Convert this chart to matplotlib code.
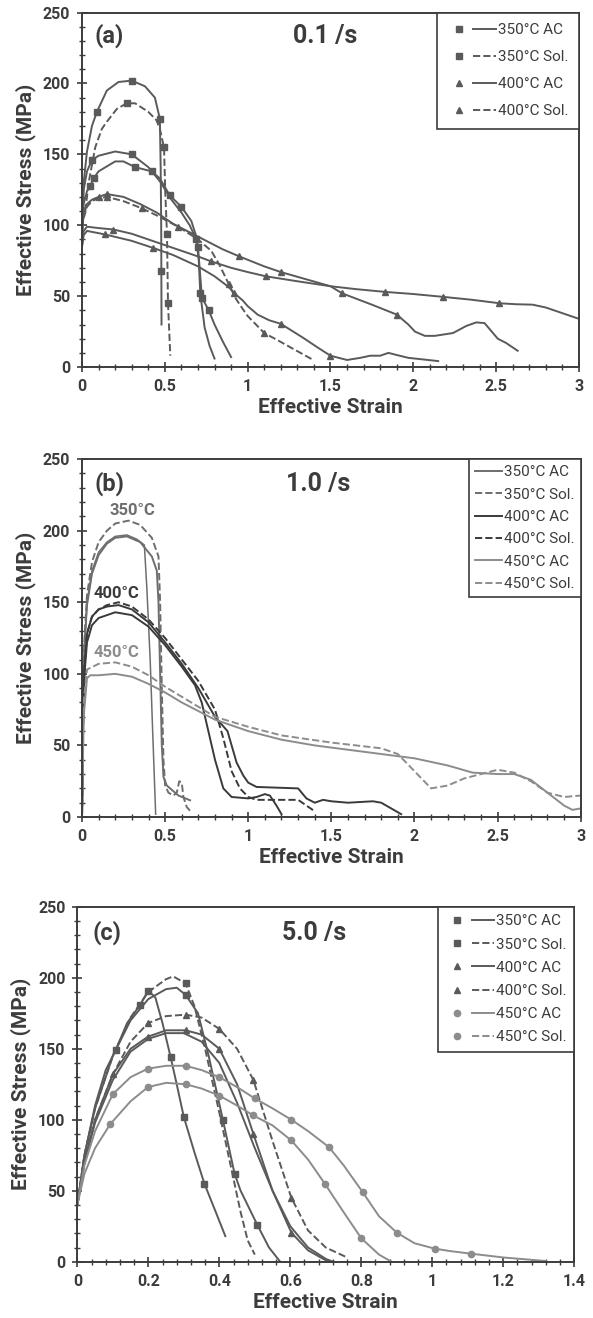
import matplotlib.pyplot as plt
from matplotlib.legend_handler import HandlerTuple
from matplotlib.lines import Line2D
from matplotlib.ticker import MultipleLocator

plt.rcParams['font.family'] = ['Roboto', 'DejaVu Sans']
plt.rcParams['font.weight'] = 'bold'

# ---------------- panel (a) 0.1 /s ----------------
a1_x = [0, 0.01, 0.03, 0.06, 0.09, 0.15, 0.22, 0.30, 0.38, 0.44, 0.47, 0.475, 0.478, 0.479, 0.48]
a1_y = [100, 130, 152, 170, 180, 195, 201, 202, 198, 190, 175, 140, 100, 68, 30]
a1_m = [4, 7, 10, 13]

a2_x = [0.02, 0.04, 0.08, 0.12, 0.15, 0.21, 0.27, 0.32, 0.40, 0.45, 0.47, 0.485, 0.495, 0.503, 0.513, 0.519, 0.533]
a2_y = [110, 130, 155, 168, 173, 182, 186, 186, 180, 174, 168, 160, 155, 122, 94, 45, 8]
a2_m = [6, 12, 14, 15]

a3_x = [0, 0.01, 0.03, 0.06, 0.1, 0.2, 0.3, 0.4, 0.47, 0.54, 0.6, 0.65, 0.69, 0.705, 0.714, 0.74, 0.77, 0.8]
a3_y = [95, 125, 138, 146, 149, 152, 150, 141, 131, 118, 109, 100, 90, 75, 52, 28, 15, 6]
a3_m = [3, 6, 12, 14]

a4_x = [0, 0.01, 0.03, 0.05, 0.07, 0.1, 0.2, 0.25, 0.32, 0.42, 0.47, 0.53, 0.6, 0.66, 0.69, 0.70,
        0.714, 0.724, 0.765, 0.8, 0.85, 0.9]
a4_y = [95, 115, 124, 128, 133, 138, 145, 145, 141, 138, 133, 121, 113, 103, 92, 85, 64, 49, 40, 30, 18, 7]
a4_m = [3, 4, 8, 9, 11, 12, 15, 17, 18]

a5_x = [0, 0.01, 0.03, 0.06, 0.1, 0.15, 0.25, 0.35, 0.45, 0.55, 0.65, 0.75, 0.85, 0.95, 1.1, 1.2, 1.35,
        1.5, 1.57, 1.75, 1.9, 1.97, 2.01, 2.07, 2.13, 2.24, 2.32, 2.38, 2.43, 2.47, 2.51, 2.56, 2.63]
a5_y = [90, 110, 115, 118, 120, 122, 120, 115, 109, 101, 95, 89, 83, 78, 71, 67, 62, 57, 52, 44, 37, 30,
        25, 22, 22, 24, 29, 31.5, 31, 25.5, 20, 17, 11.5]
a5_m = [4, 5, 13, 15, 18, 20]

a6_x = [0.01, 0.03, 0.06, 0.1, 0.15, 0.25, 0.36, 0.45, 0.58, 0.7, 0.78, 0.83, 0.886, 0.93, 0.97, 1.0,
        1.05, 1.1, 1.18, 1.28, 1.39]
a6_y = [105, 113, 117, 119, 120, 117, 112, 107, 99, 90, 82, 72, 58.5, 48, 41, 36, 30, 24, 19, 12.5, 5.4]
a6_m = [4, 6, 8, 12, 17]

a7_x = [0, 0.01, 0.03, 0.1, 0.19, 0.3, 0.4, 0.5, 0.6, 0.7, 0.78, 0.9, 1.0, 1.11, 1.3, 1.5, 1.65, 1.83,
        2.0, 2.18, 2.35, 2.52, 2.62, 2.72, 2.8, 2.9, 3.0]
a7_y = [85, 96, 99, 98, 97, 94, 90, 86, 82, 78, 74.5, 70, 67, 64, 60.5, 57, 55, 53, 51.5, 49.5, 47.5,
        45, 44.3, 44, 42, 38, 34]
a7_m = [4, 10, 13, 17, 19, 21]

a8_x = [0, 0.01, 0.03, 0.14, 0.3, 0.43, 0.55, 0.7, 0.8, 0.885, 0.92, 0.97, 1.0, 1.06, 1.13, 1.2, 1.33,
        1.42, 1.5, 1.6, 1.68, 1.74, 1.8, 1.85, 1.9, 1.97, 2.05, 2.15]
a8_y = [85, 93, 96, 93.5, 89, 84, 79, 71, 64, 56.5, 52, 47, 43, 37, 33, 30.5, 21, 14, 8, 5, 6.5, 8, 8,
        10, 8.5, 6.5, 5.5, 4.2]
a8_m = [3, 5, 10, 15, 18]

a_labels = ['350°C AC', '350°C Sol.', '400°C AC', '400°C Sol.']

# ---------------- panel (b) 1.0 /s ----------------
b1_x = [0, 0.005, 0.015, 0.03, 0.06, 0.1, 0.15, 0.2, 0.27, 0.33, 0.375, 0.39, 0.41, 0.425, 0.443]
b1_y = [0, 60, 120, 150, 172, 185, 192, 196, 197, 194, 190, 160, 110, 60, 2]

b1b_x = [0, 0.005, 0.015, 0.03, 0.06, 0.1, 0.15, 0.2, 0.27, 0.35, 0.42, 0.45, 0.46, 0.47, 0.48, 0.49,
         0.51, 0.58, 0.65]
b1b_y = [0, 60, 120, 148, 170, 183, 191, 195, 196, 192, 182, 172, 150, 100, 50, 28, 22, 15, 11.7]

b2_x = [0, 0.005, 0.015, 0.03, 0.06, 0.1, 0.15, 0.2, 0.28, 0.35, 0.42, 0.46, 0.47, 0.48, 0.49, 0.5,
        0.52, 0.55, 0.57, 0.585, 0.6, 0.61, 0.63, 0.66]
b2_y = [0, 60, 125, 155, 178, 192, 200, 205, 207, 204, 195, 182, 150, 90, 40, 22, 17, 15, 17, 25, 24,
        14, 7, 3]

b3_x = [0, 0.005, 0.015, 0.03, 0.06, 0.1, 0.15, 0.22, 0.3, 0.4, 0.5, 0.6, 0.7, 0.75, 0.8, 0.875, 0.93,
        0.97, 1.0, 1.05, 1.3, 1.35, 1.4, 1.45, 1.5, 1.6, 1.75, 1.8, 1.92]
b3_y = [0, 60, 105, 128, 140, 145, 147, 148, 145, 136, 122, 107, 90, 80, 70, 60, 38, 29, 24, 21, 20, 13,
        10, 12, 11, 10, 11, 10, 2]

b3b_x = [0, 0.005, 0.015, 0.03, 0.06, 0.1, 0.2, 0.3, 0.4, 0.5, 0.6, 0.68, 0.72, 0.76, 0.8, 0.85, 0.9,
         1.0, 1.05, 1.1, 1.13, 1.17, 1.2]
b3b_y = [0, 55, 100, 122, 134, 139, 143, 141, 133, 120, 105, 92, 80, 60, 40, 20, 14, 13, 14, 16, 15, 8, 2]

b4_x = [0, 0.005, 0.015, 0.03, 0.06, 0.1, 0.15, 0.22, 0.3, 0.4, 0.5, 0.6, 0.7, 0.8, 0.85, 0.9, 0.95,
        1.0, 1.05, 1.1, 1.2, 1.3, 1.35, 1.4]
b4_y = [0, 60, 105, 128, 140, 145, 148, 150, 147, 138, 125, 110, 95, 75, 55, 32, 20, 14, 12, 12, 12,
        12, 8, 4]

b5_x = [0, 0.01, 0.03, 0.05, 0.1, 0.2, 0.3, 0.4, 0.5, 0.6, 0.7, 0.8, 1.0, 1.2, 1.4, 1.6, 1.8, 2.0, 2.2,
        2.35, 2.5, 2.6, 2.7, 2.8, 2.9, 2.95, 3.0]
b5_y = [0, 70, 97, 99, 99, 100, 98, 93, 87, 80, 74, 68, 60, 54, 50, 47, 44, 41, 36, 31, 30, 30, 26, 17,
        8, 5, 6]

b6_x = [0, 0.01, 0.03, 0.1, 0.2, 0.3, 0.4, 0.5, 0.6, 0.7, 0.8, 1.0, 1.2, 1.5, 1.8, 1.9, 2.0, 2.1, 2.2,
        2.3, 2.4, 2.5, 2.6, 2.7, 2.8, 2.9, 3.0]
b6_y = [0, 80, 103, 107, 108, 105, 99, 91, 84, 77, 70, 63, 57, 52, 48, 44, 32, 20, 22, 27, 30, 33, 31,
        25, 17, 14, 15]

b_labels = ['350°C AC', '350°C Sol.', '400°C AC', '400°C Sol.', '450°C AC', '450°C Sol.']

# ---------------- panel (c) 5.0 /s ----------------
c1_x = [0, 0.02, 0.05, 0.08, 0.108, 0.14, 0.177, 0.2, 0.22, 0.24, 0.263, 0.28, 0.3, 0.33, 0.358, 0.39, 0.417]
c1_y = [40, 75, 110, 135, 149, 168, 181, 191, 186, 168, 144, 125, 102, 77, 55, 35, 18]
c1_m = [4, 6, 7, 10, 12, 14]

c1b_x = [0, 0.02, 0.05, 0.1, 0.15, 0.2, 0.25, 0.28, 0.305, 0.34, 0.37, 0.41, 0.443, 0.46, 0.507, 0.54, 0.57]
c1b_y = [40, 75, 108, 145, 170, 185, 192, 193, 188, 175, 145, 100, 62, 50, 26, 10, 0.5]
c1b_m = [8, 11, 12, 14]

c2_x = [0, 0.02, 0.05, 0.1, 0.15, 0.2, 0.25, 0.27, 0.305, 0.33, 0.36, 0.4, 0.43, 0.46, 0.48, 0.5]
c2_y = [40, 75, 108, 145, 172, 190, 199, 201, 196, 180, 150, 105, 70, 35, 15, 5]
c2_m = [8]

c3_x = [0, 0.02, 0.05, 0.1, 0.15, 0.199, 0.25, 0.305, 0.35, 0.4, 0.45, 0.496, 0.55, 0.603, 0.65, 0.7, 0.72]
c3_y = [40, 70, 100, 132, 150, 158.5, 163, 163, 160, 150, 125, 90, 50, 20.5, 8, 1, 0]
c3_m = [3, 5, 7, 9, 11, 13]

c3b_x = [0, 0.02, 0.05, 0.1, 0.15, 0.2, 0.25, 0.3, 0.35, 0.4, 0.45, 0.5, 0.55, 0.6, 0.65, 0.7, 0.72]
c3b_y = [40, 70, 98, 128, 148, 157, 161, 161, 155, 140, 112, 80, 50, 25, 10, 2, 0]

c4_x = [0, 0.02, 0.05, 0.1, 0.15, 0.199, 0.25, 0.305, 0.35, 0.4, 0.45, 0.496, 0.55, 0.603, 0.65, 0.7, 0.76]
c4_y = [40, 70, 100, 132, 155, 168, 173, 174, 172, 164, 150, 128, 85, 45, 22, 10, 3]
c4_m = [5, 7, 9, 11, 13]

c5_x = [0, 0.02, 0.05, 0.1, 0.15, 0.199, 0.25, 0.305, 0.35, 0.4, 0.45, 0.5, 0.55, 0.603, 0.65, 0.709,
        0.75, 0.804, 0.85, 0.9, 0.95, 1.007, 1.05, 1.108, 1.2, 1.32]
c5_y = [40, 68, 92, 118, 130, 136, 138, 138, 135, 130, 123, 115, 108, 100, 92, 80.7, 68, 49, 32, 20.5,
        13, 9.2, 7.5, 5.7, 3, 0.5]
c5_m = [3, 5, 7, 9, 11, 13, 15, 17, 19, 21, 23]

c6_x = [0, 0.02, 0.05, 0.093, 0.15, 0.199, 0.25, 0.305, 0.35, 0.4, 0.45, 0.496, 0.55, 0.603, 0.65,
        0.698, 0.75, 0.8, 0.85, 0.885]
c6_y = [40, 62, 80, 97, 113, 123, 126, 125, 122, 117, 110, 103, 96, 85.4, 72, 54.7, 35, 16.5, 5, 0]
c6_m = [3, 5, 7, 9, 11, 13, 15, 17]

c_labels = ['350°C AC', '350°C Sol.', '400°C AC', '400°C Sol.', '450°C AC', '450°C Sol.']

txt = '#3c3c3c'
dark = '#5a5a5a'
mid = '#6e6e6e'
light = '#8c8c8c'

fig = plt.figure(figsize=(5.93, 13.18), dpi=100)
ax_a = fig.add_axes([0.1383, 0.7215, 0.838, 0.269])
ax_b = fig.add_axes([0.1383, 0.3801, 0.841, 0.2716])
ax_c = fig.add_axes([0.1304, 0.0427, 0.838, 0.2693])


def style(ax, xmax, xmaj):
    ax.set_xlim(0, xmax)
    ax.set_ylim(0, 250)
    ax.xaxis.set_major_locator(MultipleLocator(xmaj))
    ax.xaxis.set_minor_locator(MultipleLocator(xmaj / 5))
    ax.yaxis.set_major_locator(MultipleLocator(50))
    ax.yaxis.set_minor_locator(MultipleLocator(10))
    ax.tick_params(which='major', direction='inout', length=7, width=1.2, color=txt,
                   labelsize=11.5, labelcolor=txt, pad=5)
    ax.tick_params(which='minor', direction='inout', length=4, width=1, color=txt)
    for s in ax.spines.values():
        s.set_color(txt)
        s.set_linewidth(1.4)
    ax.set_xlabel('Effective Strain', fontsize=15, fontweight='bold', color=txt, labelpad=3)
    ax.set_ylabel('Effective Stress (MPa)', fontsize=15, fontweight='bold', color=txt, labelpad=5)
    ax.xaxis.set_major_formatter(plt.FuncFormatter(lambda v, p: f'{v:g}'))
    for lab in ax.get_xticklabels() + ax.get_yticklabels():
        lab.set_fontweight('bold')


lw = 1.4
ms = 4.5

# panel a
ax = ax_a
ax.plot(a1_x, a1_y, '-', color=dark, lw=lw, marker='s', ms=ms, markevery=a1_m)
ax.plot(a2_x, a2_y, '--', color=dark, lw=lw, marker='s', ms=ms, markevery=a2_m)
ax.plot(a3_x, a3_y, '-', color=dark, lw=lw, marker='s', ms=ms, markevery=a3_m)
ax.plot(a4_x, a4_y, '-', color=dark, lw=lw, marker='s', ms=ms, markevery=a4_m)
ax.plot(a5_x, a5_y, '-', color=dark, lw=lw, marker='^', ms=ms, markevery=a5_m)
ax.plot(a6_x, a6_y, '--', color=dark, lw=lw, marker='^', ms=ms, markevery=a6_m)
ax.plot(a7_x, a7_y, '-', color=dark, lw=lw, marker='^', ms=ms, markevery=a7_m)
ax.plot(a8_x, a8_y, '-', color=dark, lw=lw, marker='^', ms=ms, markevery=a8_m)
style(ax, 3, 0.5)
ax.text(0.025, 0.935, '(a)', transform=ax.transAxes, fontsize=17, fontweight='bold', color=txt, va='center')
ax.text(0.49, 0.935, '0.1 /s', transform=ax.transAxes, fontsize=18, fontweight='bold', color=txt,
        va='center', ha='center')
hs = []
for mk, ls in [('s', '-'), ('s', '--'), ('^', '-'), ('^', '--')]:
    hs.append((Line2D([], [], ls='none', marker=mk, ms=ms, color=dark),
               Line2D([], [], ls=ls, lw=lw, color=dark)))
leg = ax.legend(hs, a_labels, handler_map={tuple: HandlerTuple(ndivide=None, pad=0.2)},
                loc='upper right', borderaxespad=0, labelspacing=0.85,
                handlelength=3.2, handletextpad=0.1, fancybox=False, framealpha=1,
                borderpad=0.7, prop={'weight': 'normal', 'size': 11})
leg.get_frame().set_edgecolor(txt)
leg.get_frame().set_linewidth(1.2)
for t in leg.get_texts():
    t.set_color(txt)

# panel b
ax = ax_b
ax.plot(b1_x, b1_y, '-', color=mid, lw=1.1)
ax.plot(b1b_x, b1b_y, '-', color=mid, lw=lw)
ax.plot(b2_x, b2_y, '--', color=mid, lw=lw)
ax.plot(b3_x, b3_y, '-', color='#3a3a3a', lw=lw)
ax.plot(b3b_x, b3b_y, '-', color='#3a3a3a', lw=lw)
ax.plot(b4_x, b4_y, '--', color='#3a3a3a', lw=lw)
ax.plot(b5_x, b5_y, '-', color=light, lw=lw)
ax.plot(b6_x, b6_y, '--', color=light, lw=lw)
style(ax, 3, 0.5)
ax.text(0.025, 0.93, '(b)', transform=ax.transAxes, fontsize=17, fontweight='bold', color=txt, va='center')
ax.text(0.474, 0.93, '1.0 /s', transform=ax.transAxes, fontsize=18, fontweight='bold', color=txt,
        va='center', ha='center')
ax.text(0.30, 214, '350°C', fontsize=12, fontweight='bold', color=mid, ha='center', va='center')
ax.text(0.21, 156, '400°C', fontsize=12, fontweight='bold', color='#3a3a3a', ha='center', va='center')
ax.text(0.21, 115, '450°C', fontsize=12, fontweight='bold', color=light, ha='center', va='center')
hs = [Line2D([], [], ls=ls, lw=lw, color=c) for c, ls in
      [(mid, '-'), (mid, '--'), ('#3a3a3a', '-'), ('#3a3a3a', '--'), (light, '-'), (light, '--')]]
leg = ax.legend(hs, b_labels, loc='upper right', borderaxespad=0, labelspacing=0.55,
                handlelength=1.8, handletextpad=0.1, fancybox=False, framealpha=1,
                borderpad=0.4, prop={'weight': 'normal', 'size': 11})
leg.get_frame().set_edgecolor(txt)
leg.get_frame().set_linewidth(1.2)
for t in leg.get_texts():
    t.set_color(txt)

# panel c
ax = ax_c
ax.plot(c1_x, c1_y, '-', color=dark, lw=lw, marker='s', ms=ms, markevery=c1_m)
ax.plot(c1b_x, c1b_y, '-', color=dark, lw=lw, marker='s', ms=ms, markevery=c1b_m)
ax.plot(c2_x, c2_y, '--', color=dark, lw=lw, marker='s', ms=ms, markevery=c2_m)
ax.plot(c3_x, c3_y, '-', color=dark, lw=lw, marker='^', ms=ms, markevery=c3_m)
ax.plot(c3b_x, c3b_y, '-', color=dark, lw=lw)
ax.plot(c4_x, c4_y, '--', color=dark, lw=lw, marker='^', ms=ms, markevery=c4_m)
ax.plot(c5_x, c5_y, '-', color=light, lw=lw, marker='o', ms=ms, markevery=c5_m)
ax.plot(c6_x, c6_y, '-', color=light, lw=lw, marker='o', ms=ms, markevery=c6_m)
style(ax, 1.4, 0.2)
ax.text(0.031, 0.927, '(c)', transform=ax.transAxes, fontsize=17, fontweight='bold', color=txt, va='center')
ax.text(0.476, 0.927, '5.0 /s', transform=ax.transAxes, fontsize=18, fontweight='bold', color=txt,
        va='center', ha='center')
hs = []
for mk, ls, c in [('s', '-', dark), ('s', '--', dark), ('^', '-', dark), ('^', '--', dark),
                  ('o', '-', light), ('o', '--', light)]:
    hs.append((Line2D([], [], ls='none', marker=mk, ms=ms, color=c),
               Line2D([], [], ls=ls, lw=lw, color=c)))
leg = ax.legend(hs, c_labels, handler_map={tuple: HandlerTuple(ndivide=None, pad=0.2)},
                loc='upper right', borderaxespad=0, labelspacing=0.6,
                handlelength=3.2, handletextpad=0.1, fancybox=False, framealpha=1,
                borderpad=0.5, prop={'weight': 'normal', 'size': 11})
leg.get_frame().set_edgecolor(txt)
leg.get_frame().set_linewidth(1.2)
for t in leg.get_texts():
    t.set_color(txt)

fig.savefig('out.png', dpi=100)
